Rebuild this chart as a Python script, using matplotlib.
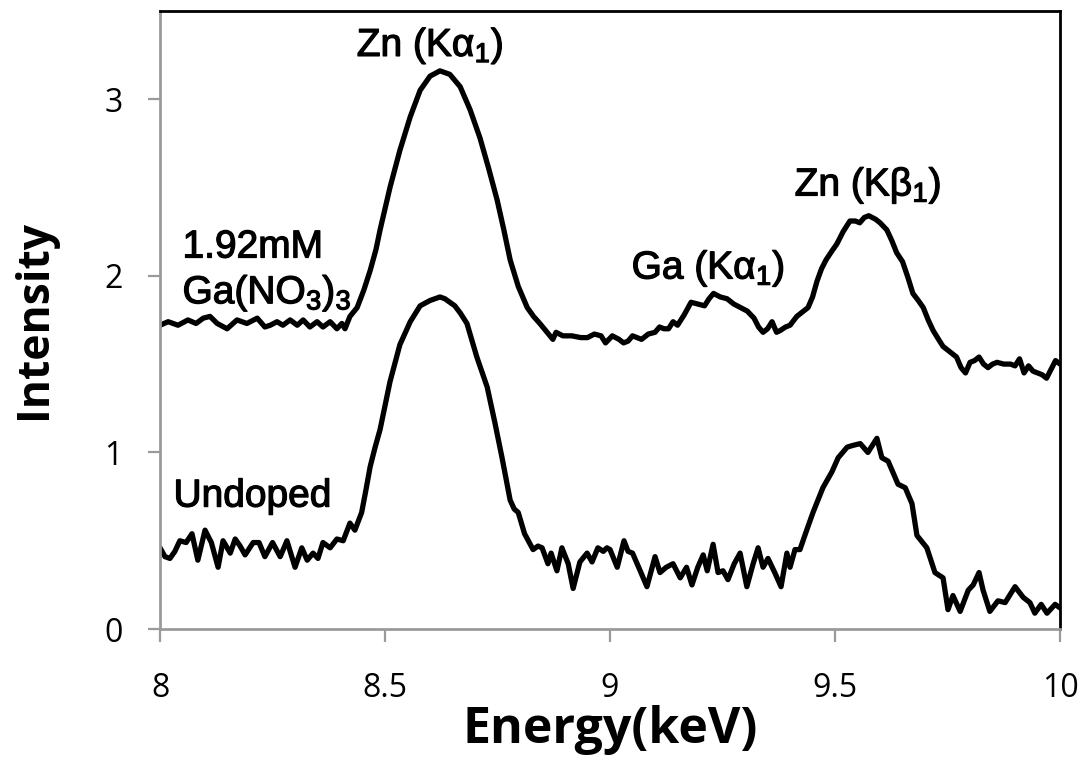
import matplotlib
matplotlib.use("Agg")
import matplotlib.pyplot as plt
import matplotlib.patheffects as pe

plt.rcParams['mathtext.fontset'] = 'custom'
plt.rcParams['mathtext.rm'] = 'Liberation Sans'
plt.rcParams['mathtext.it'] = 'Liberation Sans:italic'
plt.rcParams['mathtext.bf'] = 'Liberation Sans:bold'

# Doped sample: 1.92 mM Ga(NO3)3
energy_doped = [
    8.000, 8.018, 8.040, 8.062, 8.080, 8.096, 8.111, 8.127, 8.149, 8.171,
    8.193, 8.216, 8.233, 8.245, 8.260, 8.273, 8.289, 8.305, 8.318, 8.333,
    8.349, 8.362, 8.378, 8.393, 8.404, 8.411, 8.422, 8.438, 8.453, 8.467,
    8.480, 8.489, 8.511, 8.533, 8.556, 8.578, 8.600, 8.622, 8.644, 8.667,
    8.689, 8.711, 8.730, 8.749, 8.764, 8.778, 8.796, 8.816, 8.830, 8.844,
    8.860, 8.873, 8.880, 8.895, 8.915, 8.935, 8.950, 8.965, 8.980, 8.990,
    9.005, 9.020, 9.030, 9.040, 9.050, 9.060, 9.070, 9.085, 9.100, 9.110,
    9.120, 9.130, 9.140, 9.150, 9.165, 9.180, 9.195, 9.210, 9.220, 9.230,
    9.245, 9.260, 9.275, 9.290, 9.305, 9.320, 9.330, 9.340, 9.350, 9.360,
    9.370, 9.378, 9.390, 9.400, 9.415, 9.430, 9.440, 9.450, 9.460, 9.470,
    9.480, 9.493, 9.504, 9.518, 9.533, 9.545, 9.555, 9.565, 9.575, 9.590,
    9.600, 9.615, 9.626, 9.637, 9.650, 9.662, 9.673, 9.685, 9.696, 9.707,
    9.718, 9.730, 9.740, 9.755, 9.770, 9.780, 9.790, 9.800, 9.810, 9.820,
    9.830, 9.840, 9.850, 9.860, 9.875, 9.890, 9.900, 9.910, 9.920, 9.930,
    9.940, 9.950, 9.960, 9.970, 9.980, 9.990, 10.000]
intensity_doped = [
    1.72, 1.74, 1.72, 1.75, 1.73, 1.76, 1.77, 1.73, 1.70, 1.75,
    1.73, 1.76, 1.71, 1.72, 1.74, 1.72, 1.75, 1.72, 1.75, 1.71,
    1.74, 1.71, 1.74, 1.70, 1.73, 1.70, 1.77, 1.82, 1.92, 2.03,
    2.15, 2.26, 2.50, 2.71, 2.90, 3.05, 3.13, 3.16, 3.14, 3.07,
    2.94, 2.78, 2.61, 2.43, 2.26, 2.09, 1.94, 1.82, 1.77, 1.73,
    1.68, 1.64, 1.68, 1.66, 1.66, 1.65, 1.65, 1.67, 1.66, 1.62,
    1.66, 1.64, 1.62, 1.63, 1.66, 1.65, 1.64, 1.67, 1.68, 1.71,
    1.70, 1.70, 1.74, 1.72, 1.78, 1.85, 1.84, 1.83, 1.87, 1.90,
    1.88, 1.87, 1.84, 1.82, 1.80, 1.76, 1.71, 1.68, 1.70, 1.74,
    1.68, 1.69, 1.71, 1.72, 1.77, 1.80, 1.82, 1.88, 1.97, 2.04,
    2.09, 2.14, 2.18, 2.25, 2.31, 2.31, 2.30, 2.33, 2.34, 2.32,
    2.30, 2.26, 2.20, 2.13, 2.08, 1.99, 1.90, 1.86, 1.82, 1.75,
    1.69, 1.64, 1.60, 1.57, 1.54, 1.48, 1.45, 1.51, 1.52, 1.54,
    1.50, 1.48, 1.50, 1.51, 1.50, 1.50, 1.49, 1.53, 1.45, 1.49,
    1.46, 1.45, 1.44, 1.42, 1.47, 1.52, 1.50]

# Undoped sample
energy_undoped = [
    8.000, 8.011, 8.022, 8.033, 8.044, 8.058, 8.071, 8.084, 8.100, 8.114,
    8.129, 8.140, 8.156, 8.167, 8.178, 8.189, 8.207, 8.220, 8.233, 8.250,
    8.267, 8.282, 8.300, 8.315, 8.327, 8.340, 8.351, 8.362, 8.378, 8.393,
    8.407, 8.422, 8.433, 8.448, 8.457, 8.467, 8.478, 8.489, 8.511, 8.533,
    8.556, 8.578, 8.600, 8.622, 8.633, 8.644, 8.655, 8.667, 8.682, 8.704,
    8.727, 8.744, 8.760, 8.778, 8.787, 8.796, 8.810, 8.829, 8.840, 8.849,
    8.862, 8.869, 8.882, 8.893, 8.907, 8.918, 8.933, 8.949, 8.960, 8.973,
    8.985, 8.993, 9.000, 9.016, 9.031, 9.040, 9.050, 9.067, 9.082, 9.100,
    9.111, 9.125, 9.140, 9.156, 9.170, 9.182, 9.195, 9.207, 9.216, 9.229,
    9.240, 9.251, 9.262, 9.276, 9.289, 9.304, 9.318, 9.329, 9.340, 9.351,
    9.366, 9.380, 9.393, 9.400, 9.411, 9.422, 9.437, 9.451, 9.473, 9.493,
    9.507, 9.527, 9.540, 9.556, 9.573, 9.593, 9.604, 9.618, 9.640, 9.656,
    9.671, 9.682, 9.704, 9.722, 9.740, 9.751, 9.762, 9.778, 9.796, 9.807,
    9.820, 9.829, 9.844, 9.862, 9.878, 9.900, 9.918, 9.933, 9.944, 9.958,
    9.971, 9.989, 10.000]
intensity_undoped = [
    0.46, 0.41, 0.40, 0.44, 0.50, 0.49, 0.54, 0.39, 0.56, 0.49,
    0.35, 0.50, 0.43, 0.51, 0.47, 0.42, 0.49, 0.49, 0.41, 0.49,
    0.41, 0.50, 0.35, 0.46, 0.39, 0.43, 0.40, 0.49, 0.46, 0.51,
    0.50, 0.60, 0.56, 0.66, 0.78, 0.92, 1.03, 1.13, 1.40, 1.61,
    1.74, 1.83, 1.86, 1.88, 1.87, 1.85, 1.83, 1.79, 1.73, 1.54,
    1.37, 1.17, 0.97, 0.73, 0.68, 0.66, 0.54, 0.45, 0.47, 0.46,
    0.37, 0.43, 0.33, 0.46, 0.37, 0.23, 0.38, 0.43, 0.38, 0.46,
    0.44, 0.46, 0.45, 0.35, 0.50, 0.44, 0.43, 0.33, 0.24, 0.41,
    0.32, 0.35, 0.37, 0.29, 0.35, 0.25, 0.35, 0.42, 0.33, 0.48,
    0.32, 0.33, 0.28, 0.37, 0.43, 0.24, 0.37, 0.46, 0.35, 0.40,
    0.32, 0.24, 0.43, 0.35, 0.45, 0.45, 0.56, 0.66, 0.80, 0.89,
    0.97, 1.03, 1.04, 1.05, 1.00, 1.08, 0.97, 0.95, 0.82, 0.80,
    0.71, 0.53, 0.46, 0.32, 0.29, 0.11, 0.19, 0.10, 0.22, 0.25,
    0.32, 0.22, 0.10, 0.16, 0.15, 0.24, 0.18, 0.15, 0.09, 0.14,
    0.09, 0.14, 0.12]

x_ticks = [8, 8.5, 9, 9.5, 10]
x_tick_labels = ['8', '8.5', '9', '9.5', '10']
y_ticks = [0, 1, 2, 3]

fig = plt.figure(figsize=(10.85, 7.7), dpi=100)
ax = fig.add_axes([0.1475, 0.183, 0.8295, 0.803])

ax.plot(energy_doped, intensity_doped, color='black', lw=3.8,
        solid_joinstyle='round', solid_capstyle='round')
ax.plot(energy_undoped, intensity_undoped, color='black', lw=3.8,
        solid_joinstyle='round', solid_capstyle='round')

ax.set_xlim(8, 10)
ax.set_ylim(0, 3.5)
ax.set_xticks(x_ticks)
ax.set_xticklabels(x_tick_labels)
ax.set_yticks(y_ticks)

for side in ['left', 'bottom']:
    ax.spines[side].set_color('#9a9a9a')
    ax.spines[side].set_linewidth(2)
for side in ['top', 'right']:
    ax.spines[side].set_color('black')
    ax.spines[side].set_linewidth(2)

ax.tick_params(axis='both', direction='out', length=9, width=1.6,
               color='#9a9a9a', labelsize=23)
ax.tick_params(axis='x', pad=22)
ax.tick_params(axis='y', pad=18)
for lab in ax.get_xticklabels() + ax.get_yticklabels():
    lab.set_fontfamily('Open Sans')

ax.set_xlabel('Energy(keV)', fontsize=36, fontweight='bold',
              fontfamily='Open Sans', labelpad=0)
ax.set_ylabel('Intensity', fontsize=32, fontweight='bold',
              fontfamily='Open Sans', labelpad=34)

# slightly heavier annotation text, as in the reference
heavy = [pe.withStroke(linewidth=0.9, foreground='black')]
tkw = dict(fontsize=28, fontfamily='Liberation Sans', color='black',
           path_effects=heavy)
ax.text(8.6, 3.30, 'Zn (Kα$_1$)', ha='center', va='center', **tkw)
ax.text(9.218, 2.04, 'Ga (Kα$_1$)', ha='center', va='center', **tkw)
ax.text(9.573, 2.51, 'Zn (Kβ$_1$)', ha='center', va='center', **tkw)
ax.text(8.05, 2.16, '1.92mM', ha='left', va='center', **tkw)
ax.text(8.05, 1.90, 'Ga(NO$_3$)$_3$', ha='left', va='center', **tkw)
ax.text(8.03, 0.75, 'Undoped', ha='left', va='center', **tkw)

fig.savefig('out.png', dpi=100)
